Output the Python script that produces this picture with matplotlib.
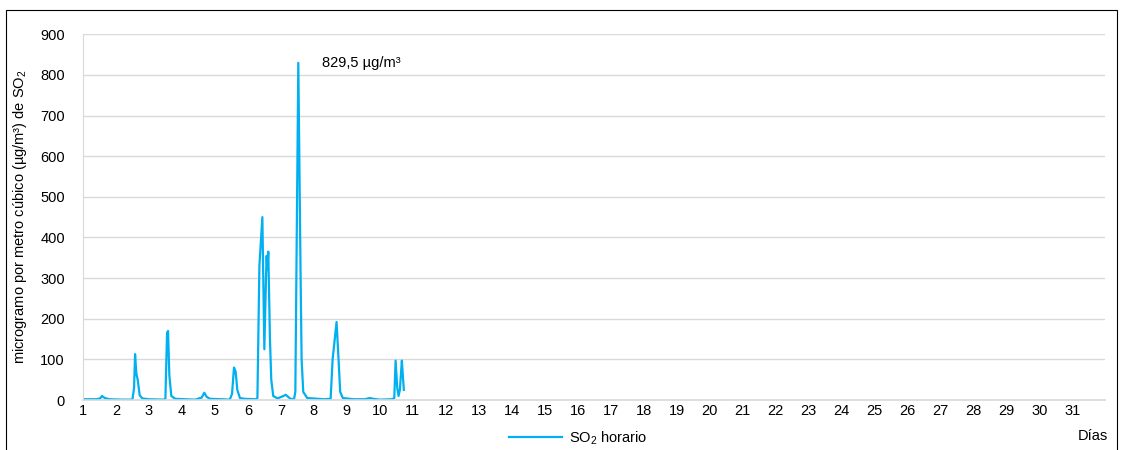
import numpy as np
import matplotlib as mpl
mpl.use("Agg")
import matplotlib.pyplot as plt
from matplotlib.patches import Rectangle

plt.rcParams['font.family'] = ['Liberation Sans', 'DejaVu Sans']
plt.rcParams['mathtext.default'] = 'regular'

# vertices of the hourly series (day, µg/m³)
days = [1.00, 1.40, 1.52, 1.58, 1.66, 1.80, 2.20, 2.50, 2.55, 2.58, 2.62, 2.66, 2.72, 2.80, 3.00,
        3.45, 3.50, 3.55, 3.58, 3.62, 3.68, 3.80, 4.40, 4.60, 4.68, 4.75, 4.85, 5.20, 5.45, 5.52,
        5.58, 5.63, 5.68, 5.76, 5.90, 6.25, 6.29, 6.35, 6.44, 6.50, 6.55, 6.57, 6.59, 6.62, 6.67,
        6.71, 6.77, 6.90, 7.08, 7.15, 7.22, 7.29, 7.40, 7.44, 7.53, 7.60, 7.63, 7.68, 7.80, 8.30,
        8.51, 8.57, 8.69, 8.75, 8.80, 8.88, 9.20, 9.55, 9.70, 9.80, 10.00, 10.38, 10.44, 10.48, 10.53,
        10.57, 10.61, 10.67, 10.70, 10.73]
so2 = [2, 2, 4, 10, 5, 2, 1, 1, 30, 113, 65, 50, 12, 4, 2,
       1, 3, 165, 170, 60, 10, 3, 1, 6, 18, 8, 3, 2, 1, 15,
       80, 70, 25, 5, 3, 2, 5, 330, 450, 125, 300, 355, 320, 365, 150,
       50, 10, 4, 10, 13, 8, 3, 2, 20, 829.5, 300, 100, 20, 5, 2,
       3, 100, 192, 100, 20, 5, 2, 2, 5, 3, 1, 2, 5, 97, 30,
       10, 25, 97, 60, 25]

day_ticks = list(range(1, 32))
y_ticks = [0, 100, 200, 300, 400, 500, 600, 700, 800, 900]

peak_label = "829,5 µg/m³"
line_color = "#00b0f0"

fig = plt.figure(figsize=(11.21, 4.5), dpi=100)
ax = fig.add_axes([0.074, 0.111, 0.912, 0.813])

line, = ax.plot(days, so2, color=line_color, linewidth=1.6, label="SO$_2$ horario")

ax.set_xlim(1, 32)
ax.set_ylim(0, 900)
ax.set_xticks(day_ticks)
ax.set_yticks(y_ticks)
ax.tick_params(axis='both', length=0, labelsize=10.5, colors='#000000')
ax.tick_params(axis='x', pad=3)
ax.tick_params(axis='y', pad=13)

ax.grid(axis='y', color='#d9d9d9', linewidth=1.0)
ax.set_axisbelow(True)
for side in ['top', 'right']:
    ax.spines[side].set_visible(False)
ax.spines['left'].set_color('#d9d9d9')
ax.spines['bottom'].set_color('#d9d9d9')
ax.spines['bottom'].set_linewidth(1.2)

ax.set_ylabel("microgramo por metro cúbico (µg/m³) de SO$_2$", fontsize=10.5, labelpad=8)

ax.text(8.25, 829, peak_label, fontsize=10.5, va='center', ha='left')

fig.text(0.988, 0.031, "Días", fontsize=10.5, ha='right', va='center')

fig.legend(handles=[line], loc='center', bbox_to_anchor=(0.516, 0.027), frameon=False,
           fontsize=10.5, handlelength=3.6, handletextpad=0.5, borderpad=0, borderaxespad=0)

# outer frame of the figure
fig.patches.append(Rectangle((6 / 1121, -0.1), 1111 / 1121, 1.1 - 10 / 450,
                             transform=fig.transFigure, fill=False,
                             edgecolor='#000000', linewidth=0.8))

fig.savefig("out.png", dpi=100)
